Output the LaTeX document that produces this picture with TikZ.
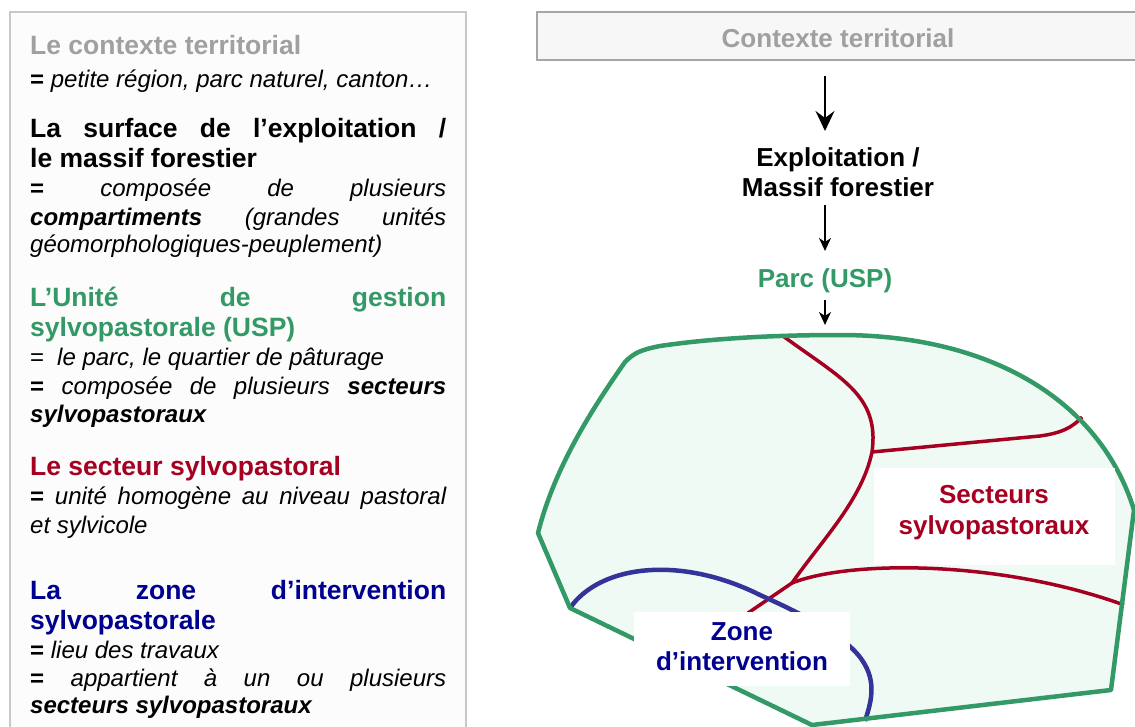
\documentclass[tikz,border=0pt]{standalone}
\usepackage{fontspec}
\setmainfont{Liberation Sans}
\usetikzlibrary{arrows.meta}
\definecolor{tgray}{HTML}{A0A0A0}
\definecolor{tgreen}{HTML}{339966}
\definecolor{tred}{HTML}{A50021}
\definecolor{tnavy}{HTML}{000090}
\definecolor{lblue}{HTML}{333399}
\definecolor{pfill}{HTML}{F0FAF4}
\definecolor{boxfill}{HTML}{F7F7F7}
\definecolor{boxline}{HTML}{A6A6A6}
\definecolor{panelline}{HTML}{C8C8C8}
\definecolor{panelfill}{HTML}{FCFCFC}
\newcommand\lhfont{\fontsize{26.5}{30}\selectfont\bfseries}
\newcommand\lbfont{\fontsize{24}{28}\selectfont\itshape}
\newcommand\rlfont{\fontsize{26}{30}\selectfont\bfseries}
\newcommand\jl[1]{\hbox to 416pt{\spaceskip=.28em plus 1fil\relax #1}}
\newcommand\eqb{{\upshape\bfseries =}}
\tikzset{
  lh/.style={anchor=base west, inner sep=0pt, font=\lhfont},
  lb/.style={anchor=base west, inner sep=0pt, font=\lbfont},
  rl/.style={anchor=base, inner sep=0pt, font=\rlfont},
  arrA/.style={line width=1.6pt, -{Stealth[length=20pt,width=19pt,inset=7pt]}},
  arrB/.style={line width=1.6pt, -{Stealth[length=13pt,width=12pt,inset=4pt]}},
  redl/.style={draw=tred, line width=3.5pt},
  bluel/.style={draw=lblue, line width=4.5pt},
  whitebox/.style={fill=white, inner sep=0pt},
}
\begin{document}
\begin{tikzpicture}[x=1pt,y=-1pt]
\useasboundingbox (0,0) rectangle (1135,727);
\clip (0,0) rectangle (1135,727);
% left panel
\draw[draw=panelline, fill=panelfill, line width=1.5pt] (10,12) rectangle (466,760);
\node[lh, text=tgray] (t1) at (30,55) {Le contexte territorial};
\node[lb] (t2) at (30,88) {\eqb{} petite région, parc naturel, canton…};
\node[lh] (t3) at (30,138) {\jl{La surface de l’exploitation /}};
\node[lh] (t4) at (30,168) {le massif forestier};
\node[lb] (t5) at (30,197) {\jl{\eqb{} composée de plusieurs}};
\node[lb] (t6) at (30,226) {\jl{\textbf{compartiments} (grandes unités}};
\node[lb] (t7) at (30,253) {géomorphologiques-peuplement)};
\node[lh, text=tgreen] (t8) at (30,307) {\jl{L’Unité de gestion}};
\node[lh, text=tgreen] (t9) at (30,336) {sylvopastorale (USP)};
\node[lb] (t10) at (30,365) {{\upshape =}\hspace{13pt}le parc, le quartier de pâturage};
\node[lb] (t11) at (30,394) {\jl{\eqb{} composée de plusieurs \textbf{secteurs}}};
\node[lb] (t12) at (30,422) {\textbf{sylvopastoraux}};
\node[lh, text=tred] (t13) at (30,475) {Le secteur sylvopastoral};
\node[lb] (t14) at (30,504) {\jl{\eqb{} unité homogène au niveau pastoral}};
\node[lb] (t15) at (30,533) {et sylvicole};
\node[lh, text=tnavy] (t16) at (30,599) {\jl{La zone d’intervention}};
\node[lh, text=tnavy] (t17) at (30,629) {sylvopastorale};
\node[lb] (t18) at (30,658) {\eqb{} lieu des travaux};
\node[lb] (t19) at (30,686) {\jl{\eqb{} appartient à un ou plusieurs}};
\node[lb] (t20) at (30,713) {\textbf{secteurs sylvopastoraux}};
% right column
\node[draw=boxline, fill=boxfill, line width=1.5pt, minimum width=603pt, minimum height=48pt, inner sep=0pt] (ctx) at (838.5,36) {};
\node[rl, text=tgray] (ctxt) at (838,48) {Contexte territorial};
\node[rl] (ex1) at (838,167) {Exploitation /};
\node[rl] (ex2) at (838,197) {Massif forestier};
\node[rl, text=tgreen] (parc) at (825,288) {Parc (USP)};
\coordinate (ax) at (825,0);
\coordinate (ptop) at (825,337);
\draw[arrA, shorten <=15pt, shorten >=17pt] (ctx.south -| ax) -- (ex1.north -| ax);
\draw[arrB, shorten <=8pt, shorten >=18pt] (ex2.south -| ax) -- (parc.north -| ax);
\draw[arrB, shorten <=6pt, shorten >=12pt] (parc.south) -- (ptop);
% parc polygon
\def\parcpath{(538,533) -- (570,608) -- (812,725) -- (1111,690) -- (1134,510)
  .. controls (1100,400) and (990,335) .. (840,335)
  .. controls (760,335) and (700,340) .. (660,346)
  .. controls (640,350) and (634,353) .. (625,362)
  .. controls (595,405) and (555,465) .. (538,533) -- cycle}
\path[fill=pfill] \parcpath;
\draw[redl] (783,336) .. controls (840,378) and (880,395) .. (872,452)
  .. controls (862,500) and (822,540) .. (792,583) -- (748,613);
\draw[redl] (872,452) -- (1040,436) .. controls (1062,433) and (1073,427) .. (1082,417);
\draw[redl] (792,583) .. controls (850,560) and (1000,560) .. (1124,605);
\draw[bluel] (570,608) .. controls (600,565) and (680,555) .. (760,595)
  .. controls (800,613) and (845,635) .. (862,660)
  .. controls (878,683) and (870,705) .. (865,721);
\draw[draw=tgreen, line width=4.5pt, line join=round] \parcpath;
% label boxes
\node[whitebox, minimum width=241pt, minimum height=97pt] (secbox) at (994.5,516.5) {};
\node[rl, text=tred] (sec1) at (994,503) {Secteurs};
\node[rl, text=tred] (sec2) at (994,534) {sylvopastoraux};
\node[whitebox, minimum width=216pt, minimum height=74pt] (zonebox) at (742,649) {};
\node[rl, text=tnavy] (z1) at (742,640) {Zone};
\node[rl, text=tnavy] (z2) at (742,670) {d’intervention};
\end{tikzpicture}
\end{document}
